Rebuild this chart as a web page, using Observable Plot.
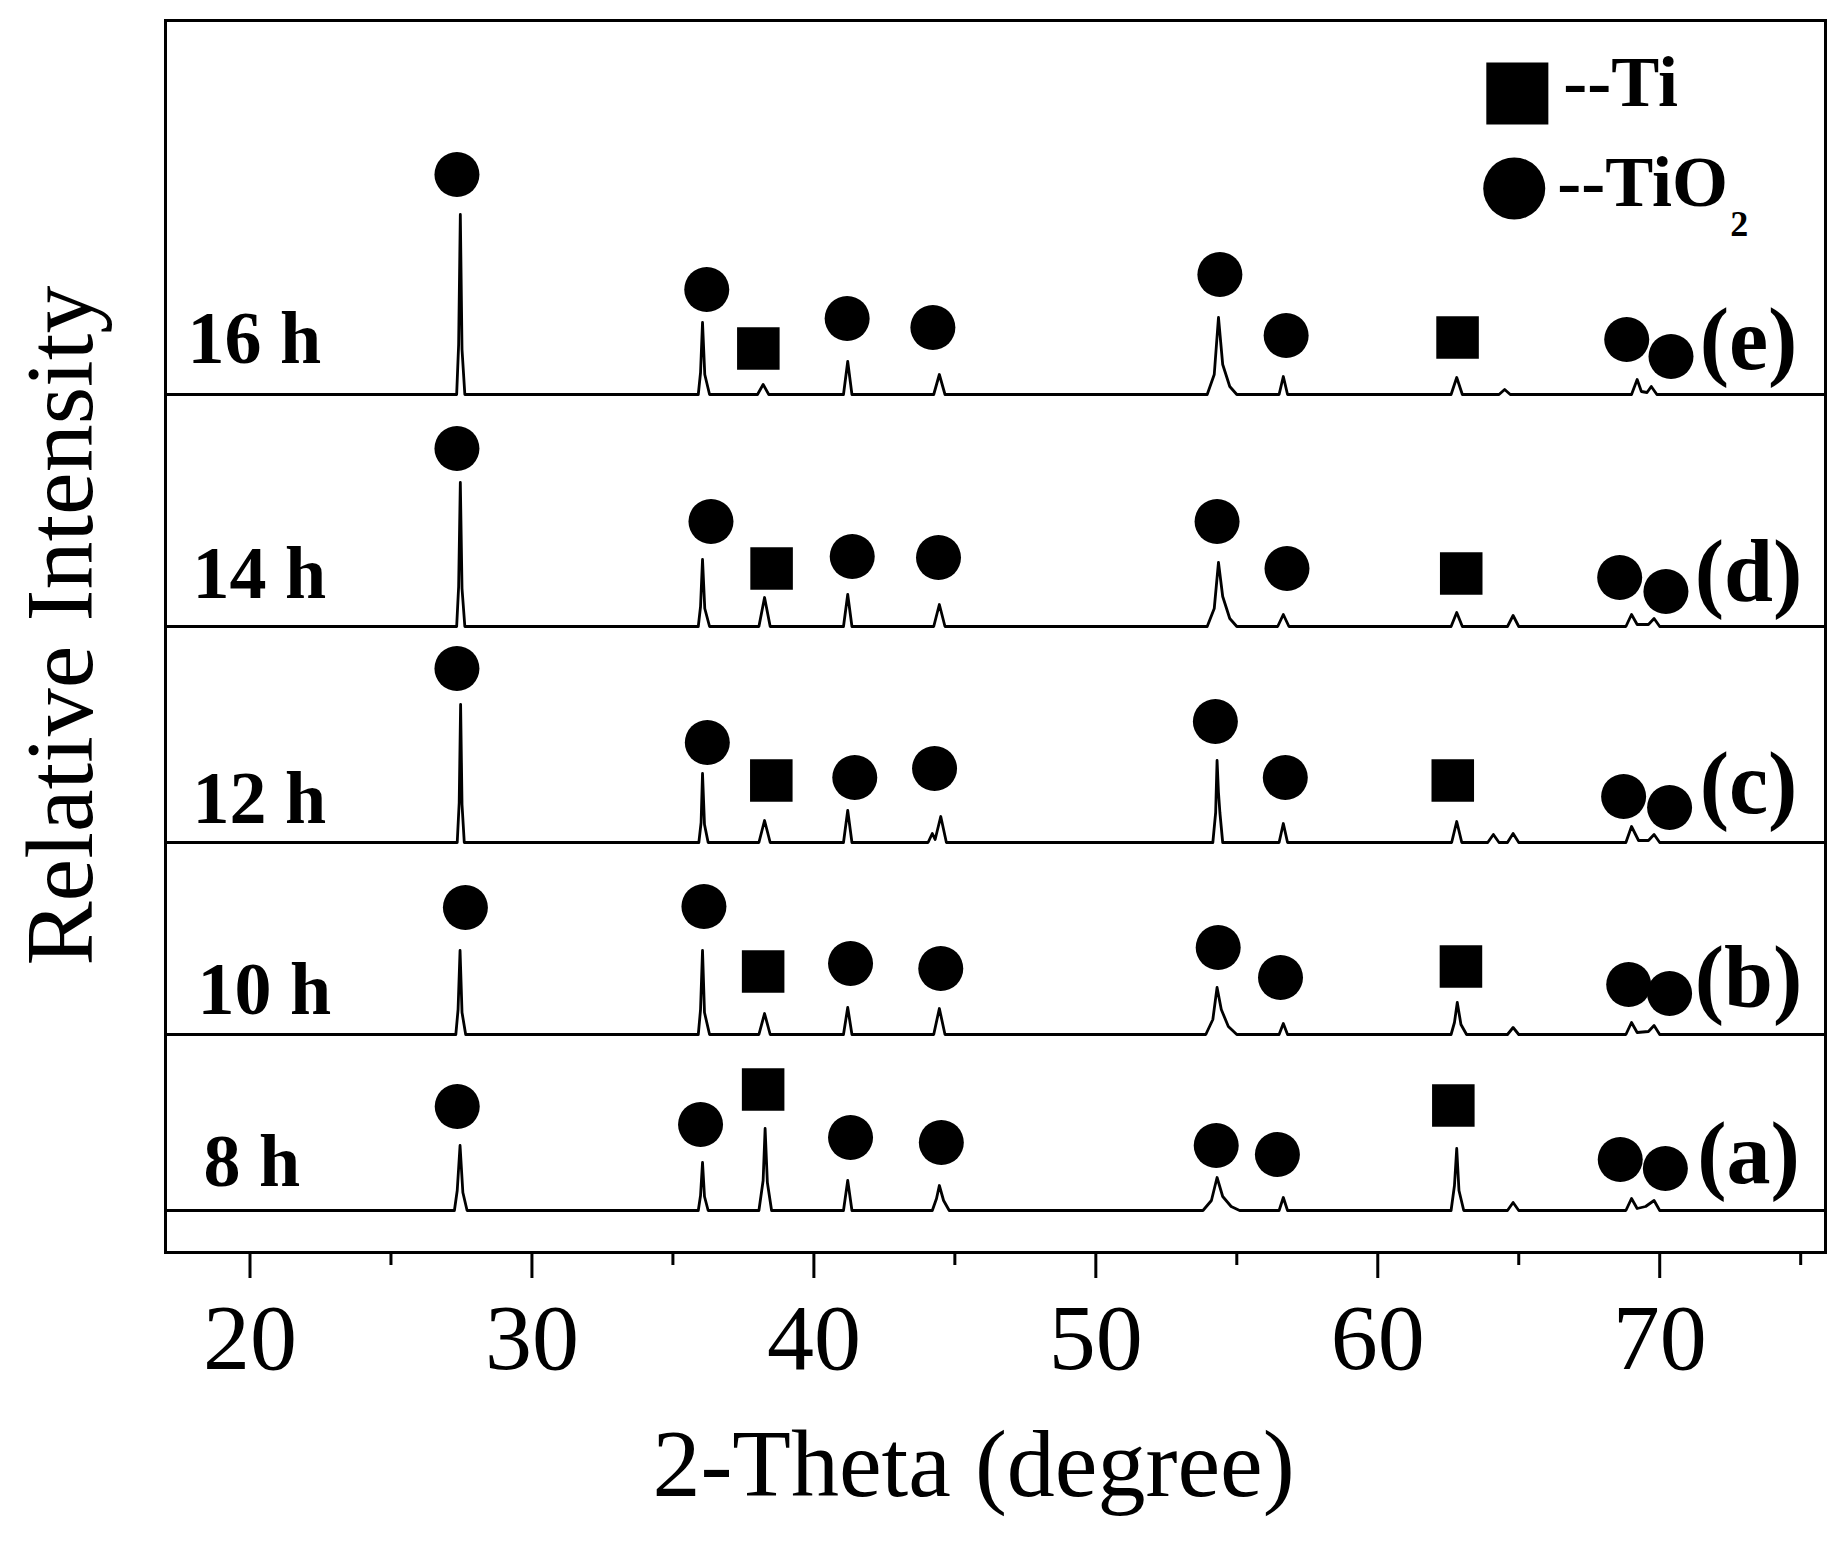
<!DOCTYPE html>
<html>
<head>
<meta charset="utf-8">
<script src="https://cdn.jsdelivr.net/npm/d3@7"></script>
<script src="https://cdn.jsdelivr.net/npm/@observablehq/plot@0.6"></script>
<style>
  html, body { margin: 0; padding: 0; background: #fff; }
  #chart svg { display: block; }
</style>
</head>
<body>
<div id="chart"></div>
<script>
// ---- data (2θ in degrees, intensity in arbitrary units above each pattern's baseline) ----
const sampleNames = ["8 h", "10 h", "12 h", "14 h", "16 h"];
const panelLetters = ["(a)", "(b)", "(c)", "(d)", "(e)"];
const baselineOffsets = [42, 218, 410, 626, 858];

const pattern8h = [
  [17.0,0],[27.25,0],[27.35,20],[27.45,65],[27.55,18],[27.7,0],
  [35.9,0],[35.98,15],[36.05,48],[36.12,14],[36.25,0],
  [38.05,0],[38.2,30],[38.27,82],[38.35,28],[38.5,0],
  [41.05,0],[41.2,30],[41.35,0],
  [44.2,0],[44.35,12],[44.45,25],[44.6,10],[44.8,0],
  [53.8,0],[54.1,10],[54.3,33],[54.5,14],[54.8,4],[55.1,0],
  [56.5,0],[56.65,13],[56.8,0],
  [62.6,0],[62.72,25],[62.8,62],[62.88,20],[63.05,0],
  [64.6,0],[64.8,8],[65.0,0],
  [68.8,0],[69.0,12],[69.2,2],[69.5,4],[69.8,10],[70.0,0],
  [75.85,0]
];
const pattern10h = [
  [17.0,0],[27.3,0],[27.38,25],[27.45,84],[27.52,22],[27.65,0],
  [35.9,0],[35.98,25],[36.05,84],[36.12,22],[36.3,0],
  [38.05,0],[38.25,21],[38.45,0],
  [41.05,0],[41.2,27],[41.35,0],
  [44.25,0],[44.45,26],[44.65,0],
  [53.9,0],[54.15,15],[54.3,47],[54.45,25],[54.7,8],[55.0,0],
  [56.5,0],[56.65,11],[56.8,0],
  [62.6,0],[62.72,12],[62.82,32],[62.95,10],[63.15,0],
  [64.6,0],[64.8,7],[65.0,0],
  [68.8,0],[69.0,12],[69.2,2],[69.6,3],[69.8,9],[70.0,0],
  [75.85,0]
];
const pattern12h = [
  [17.0,0],[27.35,0],[27.42,40],[27.47,138],[27.52,38],[27.6,0],
  [35.92,0],[36.0,20],[36.05,69],[36.12,18],[36.25,0],
  [38.05,0],[38.25,22],[38.45,0],
  [41.05,0],[41.2,32],[41.35,0],
  [44.05,0],[44.2,9],[44.3,3],[44.5,26],[44.7,0],
  [54.15,0],[54.25,30],[54.3,82],[54.35,50],[54.4,30],[54.5,0],
  [56.5,0],[56.65,19],[56.8,0],
  [62.62,0],[62.8,21],[62.98,0],
  [63.9,0],[64.1,8],[64.3,0],[64.6,0],[64.8,9],[65.0,0],
  [68.8,0],[69.0,16],[69.25,2],[69.6,2],[69.8,8],[70.0,0],
  [75.85,0]
];
const pattern14h = [
  [17.0,0],[27.33,0],[27.4,40],[27.46,144],[27.52,38],[27.62,0],
  [35.9,0],[35.98,20],[36.05,67],[36.13,18],[36.3,0],
  [38.05,0],[38.25,29],[38.45,0],
  [41.05,0],[41.2,32],[41.35,0],
  [44.25,0],[44.45,22],[44.65,0],
  [53.95,0],[54.2,18],[54.35,64],[54.5,30],[54.75,8],[55.0,0],
  [56.45,0],[56.65,12],[56.85,0],
  [62.6,0],[62.8,14],[63.0,0],
  [64.6,0],[64.8,11],[65.0,0],
  [68.8,0],[69.0,12],[69.2,2],[69.6,2],[69.8,8],[70.0,0],
  [75.85,0]
];
const pattern16h = [
  [17.0,0],[27.33,0],[27.4,50],[27.46,180],[27.52,45],[27.62,0],
  [35.9,0],[35.98,22],[36.05,72],[36.13,20],[36.3,0],
  [38.0,0],[38.2,10],[38.4,0],
  [41.05,0],[41.2,33],[41.35,0],
  [44.25,0],[44.45,20],[44.65,0],
  [53.95,0],[54.2,20],[54.35,77],[54.5,30],[54.75,8],[55.0,0],
  [56.5,0],[56.65,18],[56.8,0],
  [62.6,0],[62.8,17],[63.0,0],
  [64.3,0],[64.5,5],[64.7,0],
  [69.0,0],[69.2,15],[69.35,3],[69.55,2],[69.7,8],[69.9,0],
  [75.85,0]
];
const patterns = [pattern8h, pattern10h, pattern12h, pattern14h, pattern16h];

// phase markers (2θ, vertical position in chart units)
const tio2Markers = [
  [27.35,146],[35.98,128],[41.3,115],[44.52,110],[54.27,107],[56.44,98],[68.6,93],[70.2,84],
  [27.64,345],[36.1,346],[41.3,289],[44.5,284],[54.34,305],[56.55,275],[68.9,268],[70.35,259],
  [27.34,584],[36.22,510],[41.45,475],[44.28,484],[54.24,531],[56.72,475],[68.72,456],[70.35,445],
  [27.34,804],[36.35,731],[41.36,696],[44.42,695],[54.3,731],[56.78,684],[68.58,675],[70.22,661],
  [27.34,1078],[36.2,963],[41.18,934],[44.22,925],[54.4,978],[56.75,917],[68.83,913],[70.4,896]
];
const tiMarkers = [
  [38.2,163],[62.68,147],
  [38.2,281],[62.95,286],
  [38.49,472],[62.66,472],
  [38.5,684],[62.96,679],
  [38.03,904],[62.83,915]
];

// label positions (2θ, chart units: text baseline)
const sampleLabelX = [18.35, 18.14, 17.96, 17.96, 17.78];
const sampleLabelY = [67, 239, 430, 655, 890];
const letterX = [73.15, 73.15, 73.15, 73.15, 73.15];
const letterY = [70, 246, 440, 652, 884];

const majorTicks = [20, 30, 40, 50, 60, 70];
const minorTicks = [25, 35, 45, 55, 65, 75];
const xTitle = "2-Theta (degree)";
const yTitle = "Relative Intensity";

// legend
const legendSquare = [[64.95, 1159]];
const legendCircle = [[64.84, 1064]];
const legendTexts = [
  {x: 66.58, y: 1147, text: "--Ti", size: 72},
  {x: 66.37, y: 1047, text: "--TiO", size: 72},
  {x: 72.5, y: 1017, text: "2", size: 36}
];

// ---- tables built from the arrays above ----
const traceRows = patterns.flatMap((p, i) =>
  p.map(([x, y]) => ({sample: sampleNames[i], x, y: y + baselineOffsets[i]})));
const sampleLabels = sampleNames.map((t, i) => ({x: sampleLabelX[i], y: sampleLabelY[i], text: t}));
const letterLabels = panelLetters.map((t, i) => ({x: letterX[i], y: letterY[i], text: t}));

const chart = Plot.plot({
  width: 1844,
  height: 1542,
  marginLeft: 165,
  marginRight: 19,
  marginTop: 20,
  marginBottom: 290,
  style: {fontFamily: "'Liberation Serif', 'Times New Roman', serif", fontSize: "94px", color: "black", background: "white", overflow: "visible"},
  x: {domain: [17.003, 75.88]},
  y: {domain: [0, 1232], axis: null},
  marks: [
    Plot.line(traceRows, {x: "x", y: "y", z: "sample", stroke: "black", strokeWidth: 2.8, strokeLinejoin: "round"}),
    Plot.dot(tio2Markers, {x: d => d[0], y: d => d[1], r: 22.5, fill: "black", stroke: null}),
    Plot.dot(tiMarkers, {x: d => d[0], y: d => d[1], r: 24, symbol: "square", fill: "black", stroke: null}),
    Plot.text(sampleLabels, {x: "x", y: "y", text: "text", textAnchor: "start", lineAnchor: "bottom", fontWeight: "bold", fontSize: 74, fill: "black"}),
    Plot.text(letterLabels, {x: "x", y: "y", text: "text", textAnchor: "middle", lineAnchor: "bottom", fontWeight: "bold", fontSize: 88, fill: "black"}),
    Plot.dot(legendSquare, {x: d => d[0], y: d => d[1], r: 35, symbol: "square", fill: "black", stroke: null}),
    Plot.dot(legendCircle, {x: d => d[0], y: d => d[1], r: 31, fill: "black", stroke: null}),
    Plot.text(legendTexts, {x: "x", y: "y", text: "text", fontSize: d => d.size, textAnchor: "start", lineAnchor: "bottom", fontWeight: "bold", fill: "black"}),
    Plot.frame({stroke: "black", strokeWidth: 3}),
    Plot.axisX({ticks: majorTicks, tickSize: 26, tickPadding: 24, strokeWidth: 3, fontSize: 94, label: null, tickFormat: d => String(d)}),
    Plot.axisX({ticks: minorTicks, tickSize: 13, strokeWidth: 3, label: null, tickFormat: () => ""}),
    Plot.text([xTitle], {frameAnchor: "bottom", dy: 243, dx: -22, lineAnchor: "bottom", fontSize: 96, fill: "black"}),
    Plot.text([yTitle], {frameAnchor: "left", textAnchor: "middle", lineAnchor: "middle", rotate: -90, dx: -104, dy: -11, fontSize: 96, fill: "black"})
  ]
});
document.getElementById("chart").appendChild(chart);
</script>
</body>
</html>
